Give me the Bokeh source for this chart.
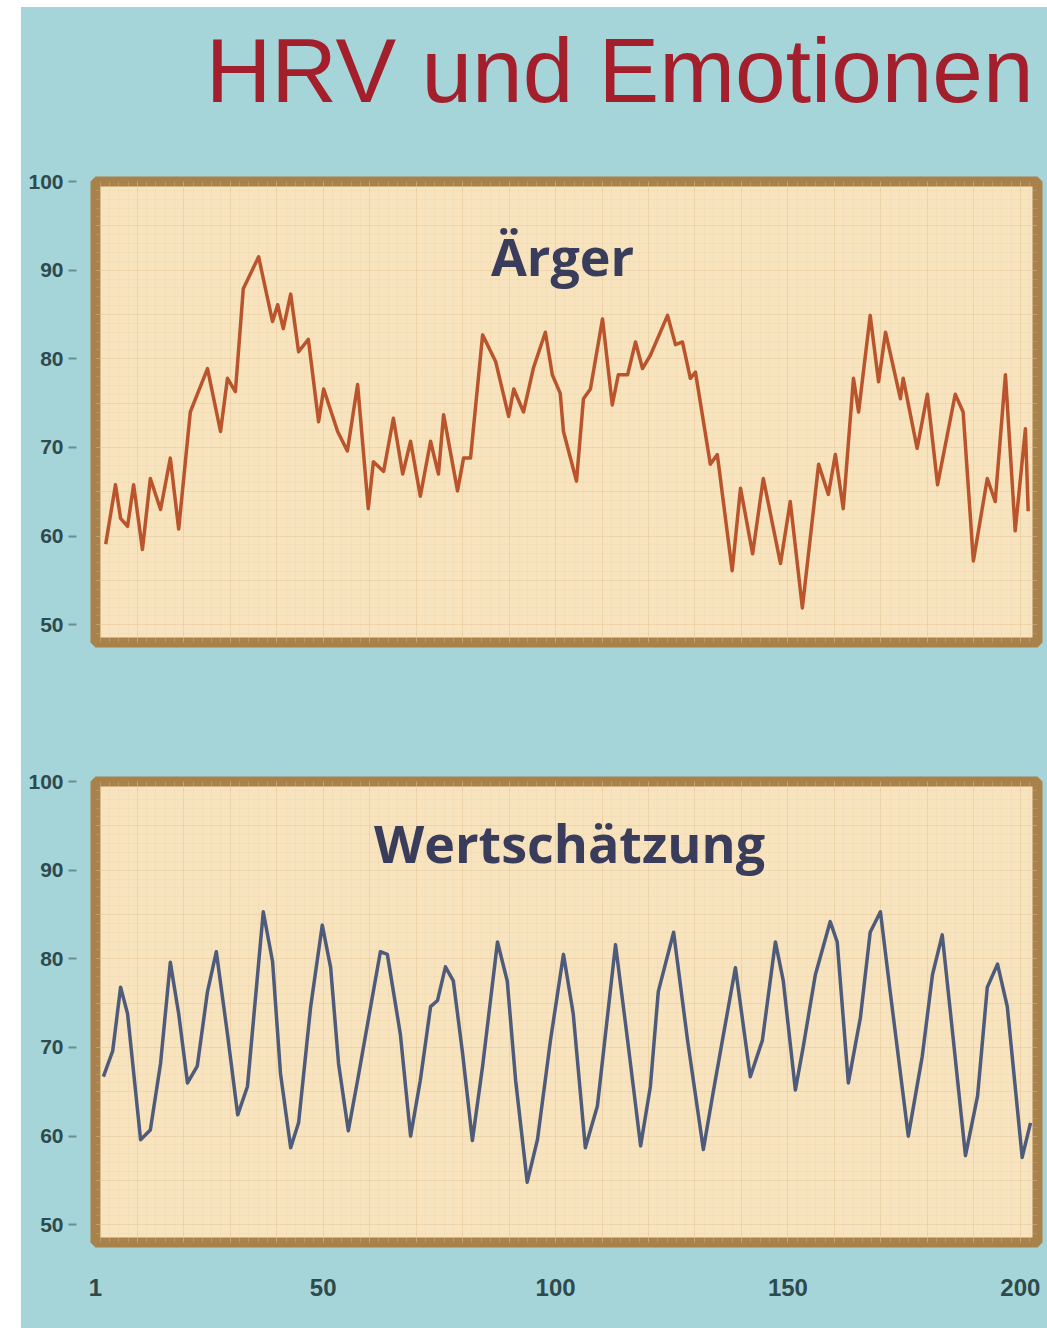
from bokeh.plotting import figure
from bokeh.layouts import column, row
from bokeh.models import Spacer, Range1d, FixedTicker, SingleIntervalTicker
from bokeh.core.properties import value
from bokeh.embed import file_html
from bokeh.resources import INLINE

title_text = "HRV und Emotionen"
panel_titles = ["Ärger", "Wertschätzung"]
x_ticks = [1, 50, 100, 150, 200]
y_ticks = [50, 60, 70, 80, 90, 100]

anger_x = [3.2, 5.3, 6.4, 7.9, 9.2, 11.1, 12.8, 15.0, 17.1, 18.9, 21.4, 22.9, 25.1, 27.9, 29.4,
           31.1, 32.8, 36.1, 39.1, 40.2, 41.4, 43.0, 44.7, 46.8, 49.0, 50.1, 53.1, 55.2, 57.4,
           59.7, 60.8, 63.0, 65.1, 67.1, 68.8, 70.9, 73.1, 74.8, 75.9, 78.9, 80.2, 81.7, 84.3,
           87.1, 89.9, 91.0, 93.1, 95.2, 97.8, 99.3, 101.0, 101.7, 104.5, 106.0, 107.5, 110.1,
           112.2, 113.5, 115.5, 117.2, 118.7, 120.4, 124.1, 125.8, 127.3, 129.0, 130.1, 133.3,
           134.8, 138.0, 139.8, 142.4, 144.7, 148.4, 150.5, 153.1, 156.6, 158.7, 160.2, 161.9,
           164.1, 165.2, 167.7, 169.5, 171.0, 174.2, 174.8, 177.8, 180.0, 182.2, 186.0, 187.7,
           189.9, 192.9, 194.6, 196.8, 198.9, 201.1, 201.7]
anger_y = [59.1, 65.8, 62.0, 61.1, 65.8, 58.5, 66.5, 63.0, 68.8, 60.8, 74.0, 76.0, 78.9, 71.8, 77.8,
           76.3, 87.9, 91.5, 84.2, 86.1, 83.4, 87.3, 80.8, 82.2, 72.9, 76.6, 71.8, 69.6, 77.1,
           63.1, 68.4, 67.3, 73.3, 67.0, 70.7, 64.5, 70.7, 67.0, 73.7, 65.1, 68.8, 68.8, 82.7,
           79.7, 73.5, 76.6, 74.0, 78.9, 83.0, 78.2, 76.1, 71.8, 66.2, 75.5, 76.6, 84.5,
           74.8, 78.2, 78.2, 81.9, 78.9, 80.4, 84.9, 81.6, 81.9, 77.8, 78.5, 68.1,
           69.2, 56.1, 65.4, 58.0, 66.5, 56.9, 63.9, 51.9, 68.1, 64.7, 69.2, 63.1,
           77.8, 74.0, 84.9, 77.4, 83.0, 75.5, 77.8, 69.9, 76.0, 65.8, 76.0, 74.0,
           57.2, 66.5, 63.9, 78.2, 60.6, 72.1, 62.8]

appr_x = [2.7, 4.7, 6.4, 7.9, 10.7, 12.8, 15.0, 17.1, 18.9, 20.8, 22.9, 25.1, 27.0, 29.4, 31.6,
          33.7, 37.1, 39.1, 40.8, 43.0, 44.7, 47.3, 49.8, 51.6, 53.3, 55.4, 57.4, 60.2, 62.3, 63.8,
          66.6, 68.8, 70.9, 73.1, 74.6, 76.3, 78.0, 80.0, 82.1, 84.3, 87.5, 89.6, 91.4, 93.9, 96.1,
          98.9, 101.7, 103.8, 106.4, 109.0, 112.9, 115.5, 118.3, 120.4, 122.1, 125.4, 128.4, 131.8,
          134.0, 135.9, 138.7, 141.9, 144.5, 147.3, 149.0, 151.6, 153.3, 155.9, 159.1, 160.6,
          163.0, 165.6, 167.7, 169.9, 172.0, 175.9, 178.9, 181.1, 183.2, 185.6, 188.2, 190.8,
          192.9, 195.1, 197.2, 200.4, 202.2]
appr_y = [66.7, 69.6, 76.8, 73.8, 59.6, 60.7, 68.2, 79.6, 73.8, 66.0, 67.9, 76.3, 80.8, 71.5, 62.4,
          65.6, 85.3, 79.7, 67.1, 58.7, 61.5, 74.6, 83.8, 79.0, 68.2, 60.6, 66.3, 74.6, 80.8, 80.5,
          71.5, 60.0, 66.3, 74.6, 75.3, 79.1, 77.5, 69.3, 59.5, 67.9, 81.9, 77.5, 66.3, 54.8, 59.6,
          70.8, 80.5, 73.8, 58.7, 63.4, 81.6, 70.8, 58.9, 65.6, 76.3, 83.0, 70.8, 58.5,
          65.2, 70.8, 79.0, 66.7, 70.8, 81.9, 77.5, 65.2, 70.1, 78.2, 84.2, 81.9,
          66.0, 73.4, 83.0, 85.3, 76.3, 60.0, 69.0, 78.2, 82.7, 70.8, 57.8, 64.5,
          76.8, 79.4, 74.6, 57.6, 61.5]

TEAL = "#a6d5d9"
PAPER = "#f7e3bd"
FRAME = "#a9824b"
NUM_FONT = "Liberation Sans"
NUM_COLOR = "#2e4a4d"

x_rng = Range1d(1, 203.7)

# ---- title strip (frame is aligned with the chart frames below) ----
pt = figure(width=1026, height=113, output_backend="svg", toolbar_location=None,
            x_range=x_rng, y_range=Range1d(0, 113),
            x_axis_location=None, y_axis_location=None,
            min_border_left=74, min_border_right=10,
            min_border_top=0, min_border_bottom=0)
pt.border_fill_color = TEAL
pt.background_fill_color = TEAL
pt.outline_line_color = None
pt.xgrid.visible = False
pt.ygrid.visible = False
pt.text(x=[24.7], y=[50], text=[title_text], text_align="left", text_baseline="alphabetic",
        text_font=value("Liberation Sans"), text_font_size="91px", text_color="#a31f2b")


def make_panel(height, top, bottom, xs, ys, color, name, name_xy, show_x):
    p = figure(width=1026, height=height, output_backend="svg", toolbar_location=None,
               x_range=x_rng, y_range=Range1d(48.0, 100.0),
               x_axis_location="below" if show_x else None,
               min_border_left=74, min_border_right=10,
               min_border_top=top, min_border_bottom=bottom)
    p.border_fill_color = TEAL
    p.background_fill_color = PAPER
    p.outline_line_color = FRAME
    p.outline_line_width = 10

    # graph paper grid
    p.xgrid.ticker = SingleIntervalTicker(interval=10, num_minor_ticks=5)
    p.ygrid.ticker = SingleIntervalTicker(interval=5, num_minor_ticks=5)
    p.xgrid.grid_line_color = "#e2bf8f"
    p.xgrid.grid_line_alpha = 0.35
    p.ygrid.grid_line_color = "#e2bf8f"
    p.ygrid.grid_line_alpha = 0.28
    p.xgrid.minor_grid_line_color = "#ebcfa6"
    p.xgrid.minor_grid_line_alpha = 0.28
    p.ygrid.minor_grid_line_color = "#ebcfa6"
    p.ygrid.minor_grid_line_alpha = 0.2

    ya = p.yaxis[0]
    ya.ticker = FixedTicker(ticks=y_ticks)
    ya.axis_line_color = None
    ya.major_tick_out = 27
    ya.major_tick_in = -19
    ya.major_tick_line_color = "#6b8e90"
    ya.major_tick_line_width = 2
    ya.minor_tick_line_color = None
    ya.major_label_standoff = 5
    ya.major_label_text_font = NUM_FONT
    ya.major_label_text_font_style = "bold"
    ya.major_label_text_font_size = "21px"
    ya.major_label_text_color = NUM_COLOR

    if show_x:
        xa = p.xaxis[0]
        xa.ticker = FixedTicker(ticks=x_ticks)
        xa.axis_line_color = None
        xa.major_tick_out = 0
        xa.major_tick_in = 0
        xa.minor_tick_line_color = None
        xa.major_label_standoff = 36
        xa.major_label_text_font = NUM_FONT
        xa.major_label_text_font_style = "bold"
        xa.major_label_text_font_size = "24px"
        xa.major_label_text_color = NUM_COLOR

    p.line(xs, ys, line_color=color, line_width=3.5, line_join="round")

    p.text(x=[name_xy[0]], y=[name_xy[1]], text=[name], text_align="center",
           text_baseline="alphabetic", text_font=value("Open Sans"),
           text_font_style="bold", text_font_size="52px", text_color="#393d5b")
    return p


p1 = make_panel(580, 61, 58, anger_x, anger_y, "#b9542c", panel_titles[0], (101.5, 91.6), False)
p2 = make_panel(628, 81, 86, appr_x, appr_y, "#4e5b7a", panel_titles[1], (103.0, 93.1), True)

charts = column(pt, p1, p2, styles={"background-color": TEAL})
layout = row(Spacer(width=21, height=1328),
             column(Spacer(width=1026, height=7), charts))

open("out.html", "w").write(file_html(layout, INLINE))
